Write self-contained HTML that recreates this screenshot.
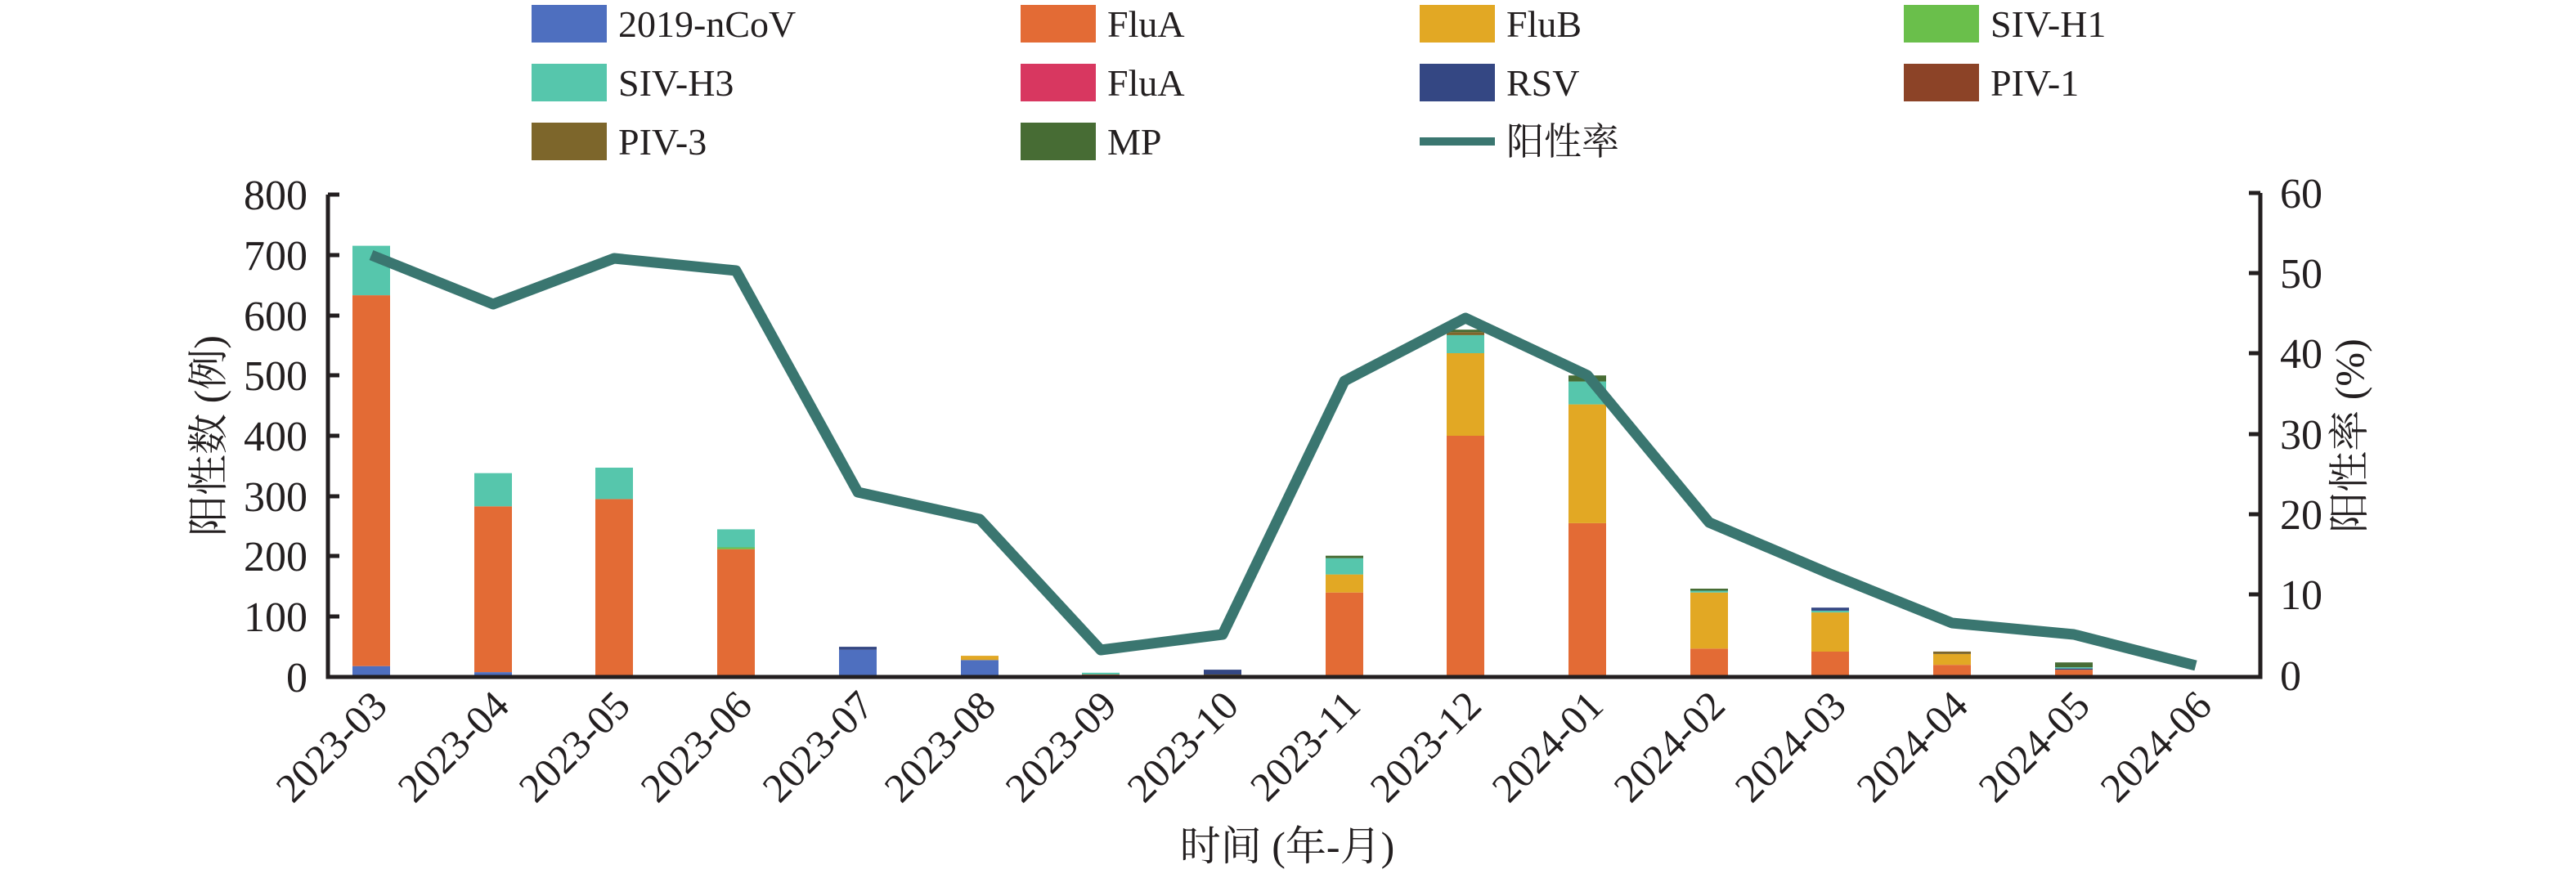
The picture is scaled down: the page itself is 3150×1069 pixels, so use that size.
<!DOCTYPE html>
<html><head><meta charset="utf-8"><style>html,body{margin:0;padding:0;background:#fff}svg{display:block}</style></head>
<body>
<svg width="3150" height="1069" viewBox="0 0 3150 1069" xmlns="http://www.w3.org/2000/svg" font-family="'Liberation Serif','Noto Serif CJK SC',serif" fill="#231f20">
<g font-size="46">
<rect x="650" y="6" width="92" height="46" fill="#4e6fbf"/><text x="756" y="45">2019-nCoV</text>
<rect x="1248" y="6" width="92" height="46" fill="#e36b35"/><text x="1354" y="45">FluA</text>
<rect x="1736" y="6" width="92" height="46" fill="#e2a824"/><text x="1842" y="45">FluB</text>
<rect x="2328" y="6" width="92" height="46" fill="#6abf4b"/><text x="2434" y="45">SIV-H1</text>
<rect x="650" y="78" width="92" height="46" fill="#56c6ac"/><text x="756" y="117">SIV-H3</text>
<rect x="1248" y="78" width="92" height="46" fill="#d83760"/><text x="1354" y="117">FluA</text>
<rect x="1736" y="78" width="92" height="46" fill="#344783"/><text x="1842" y="117">RSV</text>
<rect x="2328" y="78" width="92" height="46" fill="#8c4327"/><text x="2434" y="117">PIV-1</text>
<rect x="650" y="150" width="92" height="46" fill="#7d662b"/><text x="756" y="189">PIV-3</text>
<rect x="1248" y="150" width="92" height="46" fill="#476c34"/><text x="1354" y="189">MP</text>
<rect x="1736" y="168" width="92" height="10" fill="#3a7670"/><text x="1842" y="189">阳性率</text>
</g>
<g>
<rect x="431" y="814.7" width="46" height="13.3" fill="#4e6fbf"/><rect x="431" y="361.1" width="46" height="453.6" fill="#e36b35"/><rect x="431" y="300.6" width="46" height="60.5" fill="#56c6ac"/>
<rect x="580" y="822.1" width="46" height="5.9" fill="#4e6fbf"/><rect x="580" y="619.3" width="46" height="202.8" fill="#e36b35"/><rect x="580" y="578.7" width="46" height="40.6" fill="#56c6ac"/>
<rect x="728" y="825.8" width="46" height="2.2" fill="#4e6fbf"/><rect x="728" y="610.4" width="46" height="215.4" fill="#e36b35"/><rect x="728" y="572" width="46" height="38.4" fill="#56c6ac"/>
<rect x="877" y="825.8" width="46" height="2.2" fill="#4e6fbf"/><rect x="877" y="671.7" width="46" height="154.1" fill="#e36b35"/><rect x="877" y="669.5" width="46" height="2.2" fill="#6abf4b"/><rect x="877" y="647.4" width="46" height="22.1" fill="#56c6ac"/>
<rect x="1026" y="794.8" width="46" height="33.2" fill="#4e6fbf"/><rect x="1026" y="791.1" width="46" height="3.7" fill="#344783"/>
<rect x="1175" y="807.3" width="46" height="20.7" fill="#4e6fbf"/><rect x="1175" y="802.1" width="46" height="5.2" fill="#e2a824"/>
<rect x="1323" y="826.5" width="46" height="1.5" fill="#8c4327"/><rect x="1323" y="825" width="46" height="1.5" fill="#e36b35"/><rect x="1323" y="822.8" width="46" height="2.2" fill="#56c6ac"/>
<rect x="1472" y="825" width="46" height="3" fill="#7d662b"/><rect x="1472" y="819.1" width="46" height="5.9" fill="#344783"/>
<rect x="1621" y="724.7" width="46" height="103.3" fill="#e36b35"/><rect x="1621" y="702.6" width="46" height="22.1" fill="#e2a824"/><rect x="1621" y="682.7" width="46" height="19.9" fill="#56c6ac"/><rect x="1621" y="679.7" width="46" height="3" fill="#476c34"/>
<rect x="1769" y="533" width="46" height="295" fill="#e36b35"/><rect x="1769" y="432" width="46" height="101" fill="#e2a824"/><rect x="1769" y="409.9" width="46" height="22.1" fill="#56c6ac"/><rect x="1769" y="406.2" width="46" height="3.7" fill="#7d662b"/><rect x="1769" y="403.2" width="46" height="3" fill="#476c34"/>
<rect x="1918" y="639.9" width="46" height="188.1" fill="#e36b35"/><rect x="1918" y="494.6" width="46" height="145.3" fill="#e2a824"/><rect x="1918" y="466.6" width="46" height="28" fill="#56c6ac"/><rect x="1918" y="459.2" width="46" height="7.4" fill="#476c34"/>
<rect x="2067" y="793.3" width="46" height="34.7" fill="#e36b35"/><rect x="2067" y="724.7" width="46" height="68.6" fill="#e2a824"/><rect x="2067" y="722.5" width="46" height="2.2" fill="#56c6ac"/><rect x="2067" y="720" width="46" height="2.5" fill="#476c34"/>
<rect x="2215" y="797" width="46" height="31" fill="#e36b35"/><rect x="2215" y="749.1" width="46" height="47.9" fill="#e2a824"/><rect x="2215" y="746.9" width="46" height="2.2" fill="#56c6ac"/><rect x="2215" y="743.2" width="46" height="3.7" fill="#344783"/>
<rect x="2364" y="813.2" width="46" height="14.8" fill="#e36b35"/><rect x="2364" y="799.9" width="46" height="13.3" fill="#e2a824"/><rect x="2364" y="796.9" width="46" height="3" fill="#7d662b"/>
<rect x="2513" y="819.1" width="46" height="8.9" fill="#e36b35"/><rect x="2513" y="817.6" width="46" height="1.5" fill="#344783"/><rect x="2513" y="816.1" width="46" height="1.5" fill="#56c6ac"/><rect x="2513" y="810.2" width="46" height="5.9" fill="#476c34"/>
</g>
<polyline fill="none" stroke="#3a7670" stroke-width="13" stroke-linejoin="round" points="454,312 603,372 751,316 900,331 1049,602 1198,635 1346,795 1495,776 1644,466 1792,389 1941,459 2090,639 2238,702 2387,762 2536,776 2685,814"/>
<g stroke="#231f20" stroke-width="5" fill="none">
<path d="M401,238 V828 H2764 V236"/>
<path d="M401,238 H415 M401,312 H415 M401,386 H415 M401,459 H415 M401,533 H415 M401,607 H415 M401,680 H415 M401,754 H415"/>
<path d="M2750,236 H2764 M2750,334 H2764 M2750,432 H2764 M2750,531 H2764 M2750,629 H2764 M2750,727 H2764"/>
</g>
<g font-size="52" text-anchor="end">
<text x="376" y="256">800</text><text x="376" y="330">700</text><text x="376" y="404">600</text><text x="376" y="477">500</text><text x="376" y="551">400</text><text x="376" y="625">300</text><text x="376" y="698">200</text><text x="376" y="772">100</text><text x="376" y="846">0</text>
</g>
<g font-size="52">
<text x="2788" y="254">60</text><text x="2788" y="352">50</text><text x="2788" y="450">40</text><text x="2788" y="549">30</text><text x="2788" y="647">20</text><text x="2788" y="745">10</text><text x="2788" y="844">0</text>
</g>
<text font-size="50" text-anchor="middle" transform="translate(272,533) rotate(-90)">阳性数 (例)</text>
<text font-size="50" text-anchor="middle" transform="translate(2890,533) rotate(-90)">阳性率 (%)</text>
<text font-size="50" text-anchor="middle" x="1574" y="1052">时间 (年-月)</text>
<g font-size="50" text-anchor="end">
<text transform="translate(476,866) rotate(-45)">2023-03</text>
<text transform="translate(625,866) rotate(-45)">2023-04</text>
<text transform="translate(773,866) rotate(-45)">2023-05</text>
<text transform="translate(922,866) rotate(-45)">2023-06</text>
<text transform="translate(1071,866) rotate(-45)">2023-07</text>
<text transform="translate(1220,866) rotate(-45)">2023-08</text>
<text transform="translate(1368,866) rotate(-45)">2023-09</text>
<text transform="translate(1517,866) rotate(-45)">2023-10</text>
<text transform="translate(1666,866) rotate(-45)">2023-11</text>
<text transform="translate(1814,866) rotate(-45)">2023-12</text>
<text transform="translate(1963,866) rotate(-45)">2024-01</text>
<text transform="translate(2112,866) rotate(-45)">2024-02</text>
<text transform="translate(2260,866) rotate(-45)">2024-03</text>
<text transform="translate(2409,866) rotate(-45)">2024-04</text>
<text transform="translate(2558,866) rotate(-45)">2024-05</text>
<text transform="translate(2707,866) rotate(-45)">2024-06</text>
</g>
</svg>
</body></html>
